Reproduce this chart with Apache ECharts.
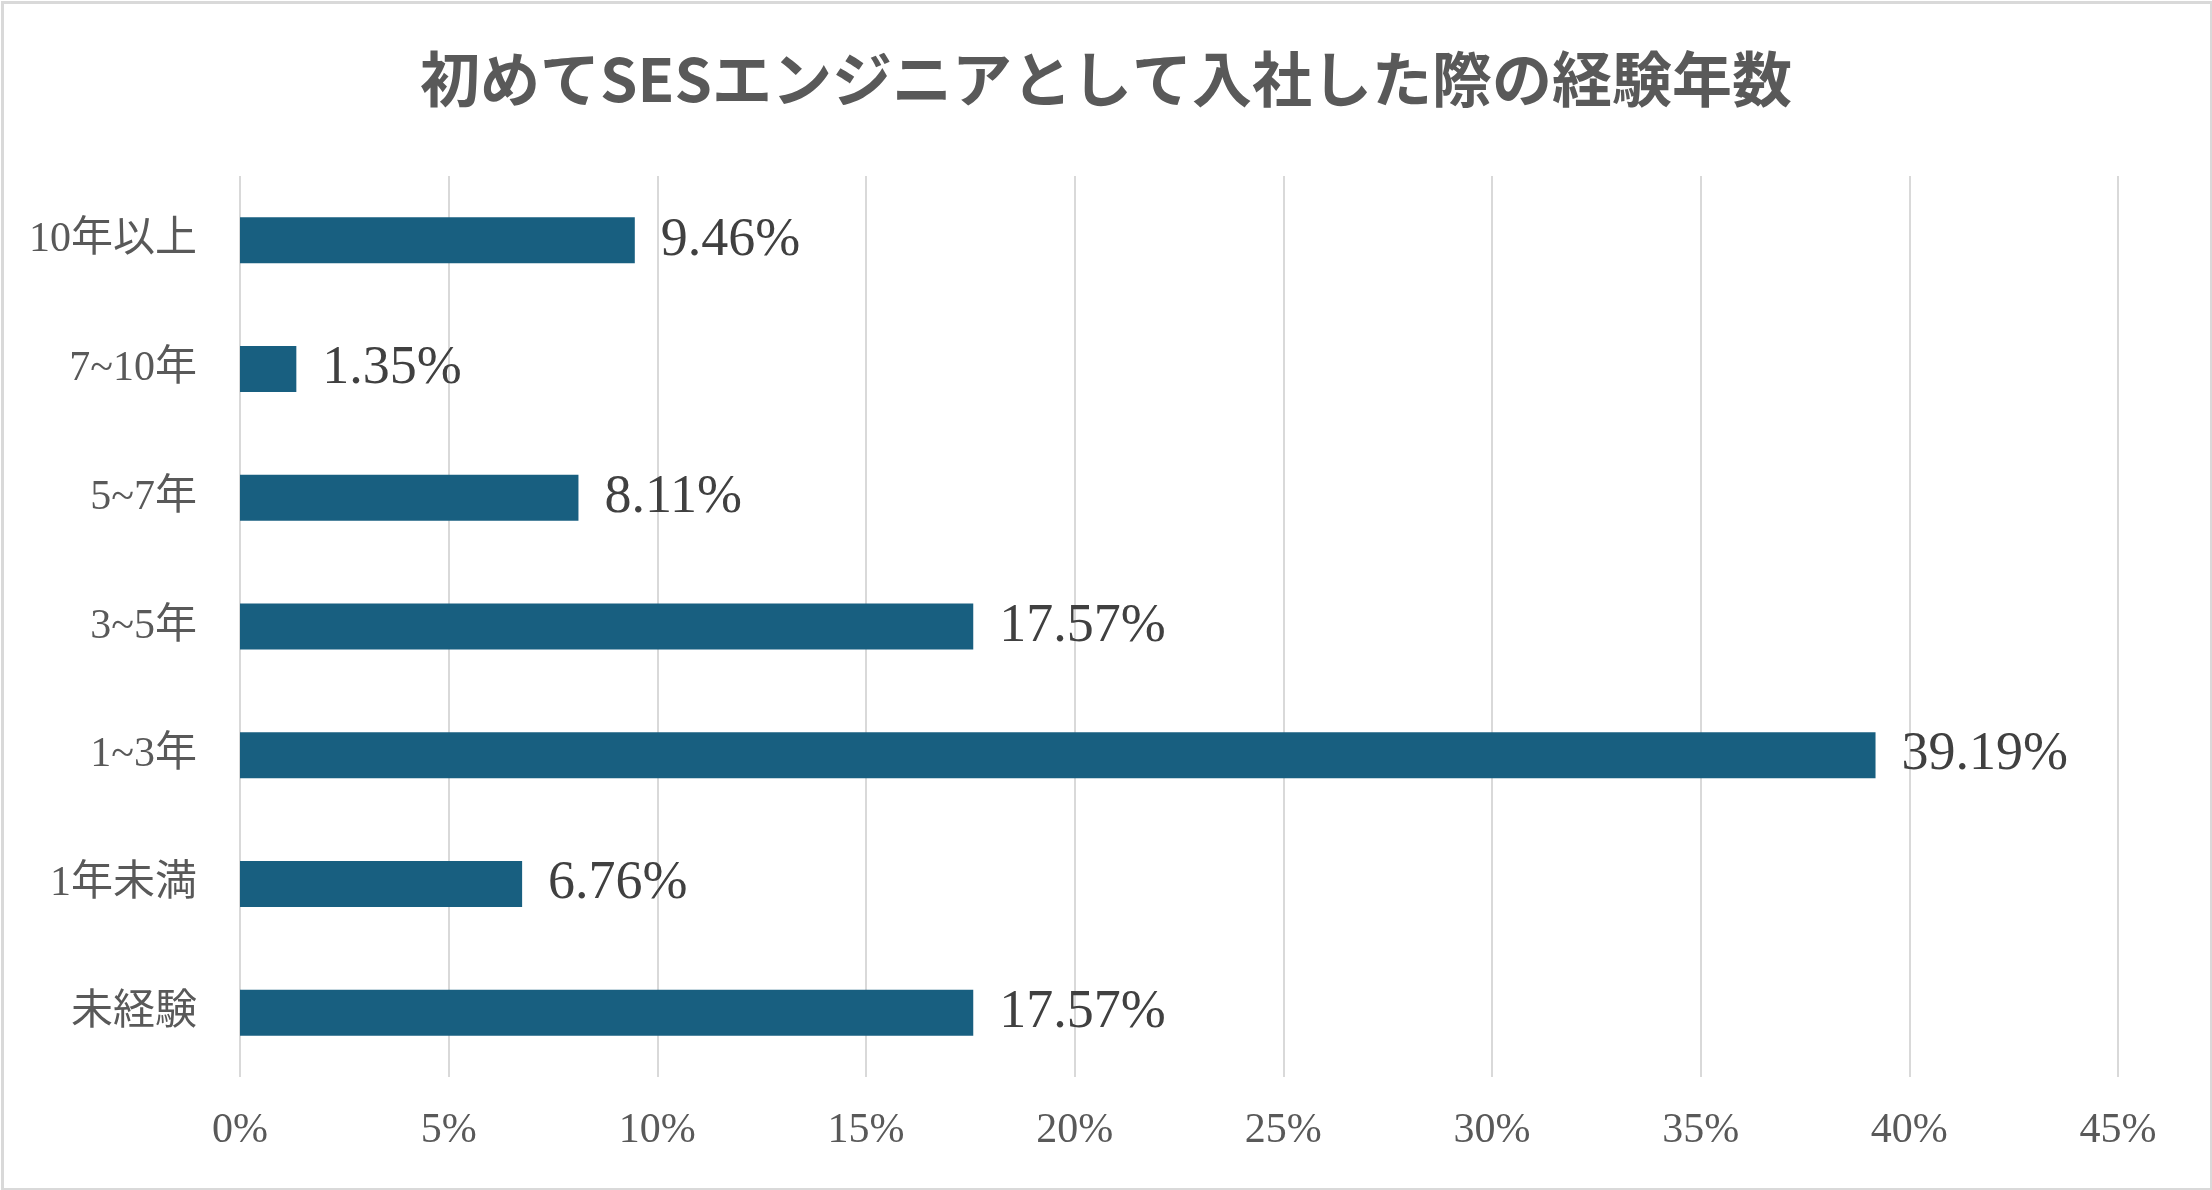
<!DOCTYPE html>
<html>
<head>
<meta charset="utf-8">
<style>
html,body{margin:0;padding:0;background:#fff;}
#chart{width:2212px;height:1190px;}
</style>
<script src="https://cdn.jsdelivr.net/npm/echarts@6/dist/echarts.min.js"></script>
</head>
<body>
<div id="chart"></div>
<script>
const titleText = '初めてSESエンジニアとして入社した際の経験年数';
const categories = ['10年以上', '7~10年', '5~7年', '3~5年', '1~3年', '1年未満', '未経験'];
const values = [9.46, 1.35, 8.11, 17.57, 39.19, 6.76, 17.57];
const xTicks = { min: 0, max: 45, interval: 5 };

const chart = echarts.init(document.getElementById('chart'));
const serif = '"Liberation Serif", "Noto Sans CJK JP", serif';
chart.setOption({
  backgroundColor: '#ffffff',
  animation: false,
  graphic: [{
    type: 'rect',
    left: 0, top: 0,
    shape: { x: 1.5, y: 1.5, width: 2209, height: 1187 },
    style: { fill: 'none', stroke: '#d9d9d9', lineWidth: 3 },
    silent: true
  }],
  title: {
    text: titleText,
    left: 'center',
    top: 44,
    textStyle: {
      fontFamily: '"Noto Sans CJK JP", sans-serif',
      fontWeight: 'bold',
      fontSize: 60,
      color: '#595959'
    }
  },
  grid: { left: 240, right: 94, top: 176, bottom: 113, containLabel: false },
  xAxis: {
    type: 'value',
    min: xTicks.min, max: xTicks.max, interval: xTicks.interval,
    axisLine: { show: false },
    axisTick: { show: false },
    splitLine: { show: true, lineStyle: { color: '#d9d9d9', width: 2 } },
    axisLabel: {
      formatter: '{value}%',
      fontFamily: serif,
      fontSize: 42,
      color: '#595959',
      margin: 33
    }
  },
  yAxis: {
    type: 'category',
    data: categories,
    inverse: true,
    axisLine: { show: false },
    axisTick: { show: false },
    splitLine: { show: false },
    axisLabel: {
      fontFamily: serif,
      fontSize: 42,
      color: '#595959',
      margin: 43
    }
  },
  series: [{
    type: 'bar',
    data: values,
    barWidth: 46,
    itemStyle: { color: '#185f80' },
    label: {
      show: true,
      position: 'right',
      distance: 26,
      formatter: p => p.value.toFixed(2) + '%',
      fontFamily: serif,
      fontSize: 54,
      color: '#404040'
    }
  }]
});
</script>
</body>
</html>
